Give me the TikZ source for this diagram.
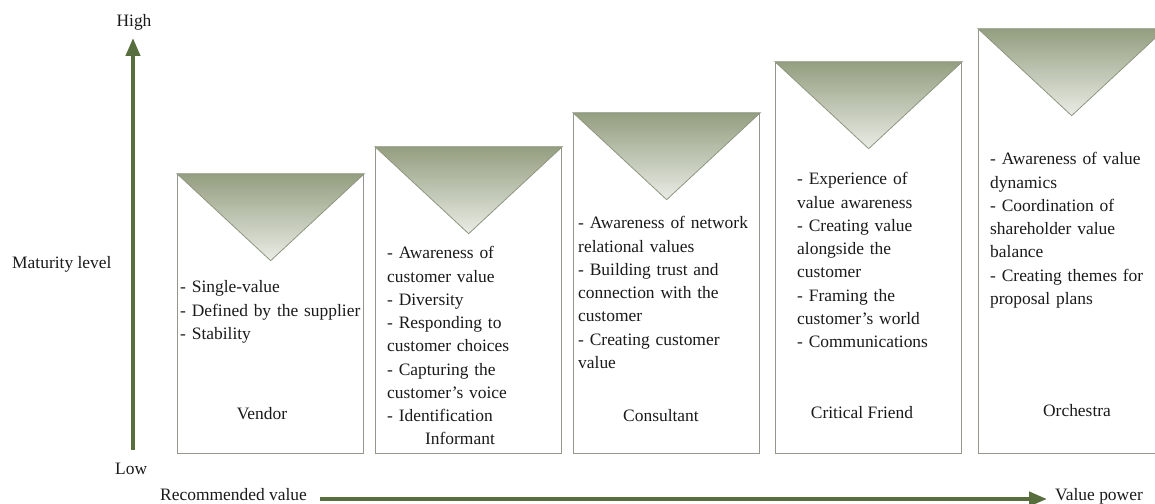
\documentclass[tikz,border=0pt]{standalone}
\usepackage{fontspec}
\setmainfont{Liberation Serif}
\usetikzlibrary{calc,arrows.meta}
\definecolor{axisgreen}{HTML}{586E3E}
\definecolor{boxgrey}{HTML}{93978C}
\definecolor{tritop}{HTML}{949E80}
\definecolor{tribot}{HTML}{E9ECE5}
\definecolor{triedge}{HTML}{8E9680}
\definecolor{textc}{HTML}{1A1A1A}
\begin{document}
\begin{tikzpicture}[x=1bp,y=-1bp,
  stagebox/.style={draw=boxgrey, line width=1.3bp, minimum width=186bp, inner sep=0pt, anchor=south west},
  tri/.style={top color=tritop, bottom color=tribot, draw=triedge, line width=0.8bp},
  txt/.style={font=\fontsize{17.5}{23.3}\selectfont, text=textc, inner sep=0pt},
  list/.style={txt, anchor=base west, align=left, text width=200bp},
  lbl/.style={txt, anchor=base},
  axis/.style={draw=axisgreen, line width=4bp, -{Triangle[length=18bp,width=14bp]}}]
\useasboundingbox (0,0) rectangle (1155,504);
\clip (0,0) rectangle (1155,504);

% stage boxes
\node[stagebox, minimum height=279bp] (b1) at (177,454) {};
\node[stagebox, minimum height=306bp] (b2) at (375,454) {};
\node[stagebox, minimum height=340bp] (b3) at (573,454) {};
\node[stagebox, minimum height=391bp] (b4) at (775,454) {};
\node[stagebox, minimum height=424bp] (b5) at (978,454) {};

% triangles
\foreach \b in {b1,b2,b3,b4,b5}{
  \shadedraw[tri] (\b.north west) -- (\b.north east) -- ($(\b.north)+(0,87)$) -- cycle;
}

% texts
\node[list] (t1) at (180,293) {- Single-value\\- Defined by the supplier\\- Stability};
\node[lbl] (l1) at (262,419) {Vendor};
\node[list] (t2) at (387,259) {- Awareness of\\customer value\\- Diversity\\- Responding to\\customer choices\\- Capturing the\\customer's voice\\- Identification};
\node[lbl] (l2) at (460,444) {Informant};
\node[list] (t3) at (578,229) {- Awareness of network\\relational values\\- Building trust and\\connection with the\\customer\\- Creating customer\\value};
\node[lbl] (l3) at (661,421) {Consultant};
\node[list] (t4) at (797,185) {- Experience of\\value awareness\\- Creating value\\alongside the\\customer\\- Framing the\\customer's world\\- Communications};
\node[lbl] (l4) at (862,418) {Critical Friend};
\node[list] (t5) at (990,165) {- Awareness of value\\dynamics\\- Coordination of\\shareholder value\\balance\\- Creating themes for\\proposal plans};
\node[lbl] (l5) at (1077,416) {Orchestra};

% axes
\coordinate (vlow) at (133,450);
\coordinate (vhigh) at (133,38);
\draw[axis] (vlow) -- (vhigh);
\coordinate (hleft) at (320,499);
\coordinate (hright) at (1047,499);
\draw[axis] (hleft) -- (hright);

\node[lbl] (high) at (134,27) {High};
\node[txt, anchor=base west] (mat) at (12,269) {Maturity level};
\node[txt, anchor=base west] (low) at (115,474) {Low};
\node[txt, anchor=base west] (rec) at (160,500) {Recommended value};
\node[txt, anchor=base west] (vp) at (1055,500) {Value power};
\end{tikzpicture}
\end{document}
